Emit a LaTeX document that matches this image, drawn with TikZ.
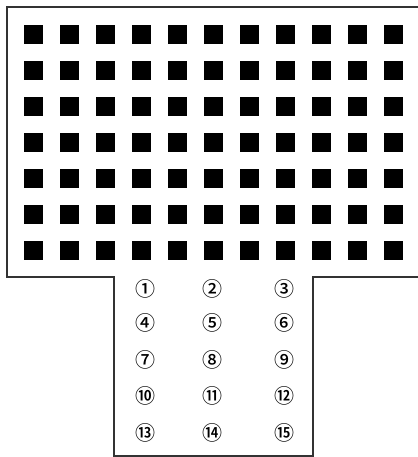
\documentclass[tikz,border=0pt]{standalone}
\usepackage{fontspec}
\newfontfamily\cjk{Noto Sans CJK SC Medium}
\tikzset{
  sq/.style={fill=black, draw=none, minimum size=19pt, inner sep=0pt, outer sep=0pt},
  num/.style={font=\cjk\fontsize{20}{20}\selectfont, inner sep=0pt},
  outline/.style={line width=1.4pt, draw=black!80}
}
\begin{document}
\begin{tikzpicture}[x=1pt,y=-1pt]
\useasboundingbox (0,0) rectangle (417,457);
\draw[outline] (114,277) -- (7,277) -- (7,7) -- (419,7) -- (419,277) -- (313,277) -- (313,456) -- (114,456) -- cycle;
\foreach \i in {0,...,10}{
  \foreach \j in {0,...,6}{
    \node[sq] (s\i-\j) at ({33.5+36*\i},{34.5+36*\j}) {};
  }
}
\node[num] (n1) at (145,289) {①};
\node[num] (n2) at (212,289) {②};
\node[num] (n3) at (284,289) {③};
\node[num] (n4) at (145,323) {④};
\node[num] (n5) at (212,323) {⑤};
\node[num] (n6) at (284,323) {⑥};
\node[num] (n7) at (145,360) {⑦};
\node[num] (n8) at (212,360) {⑧};
\node[num] (n9) at (284,360) {⑨};
\node[num] (n10) at (145,396) {⑩};
\node[num] (n11) at (212,396) {⑪};
\node[num] (n12) at (284,396) {⑫};
\node[num] (n13) at (145,433) {⑬};
\node[num] (n14) at (212,433) {⑭};
\node[num] (n15) at (284,433) {⑮};
\end{tikzpicture}
\end{document}
